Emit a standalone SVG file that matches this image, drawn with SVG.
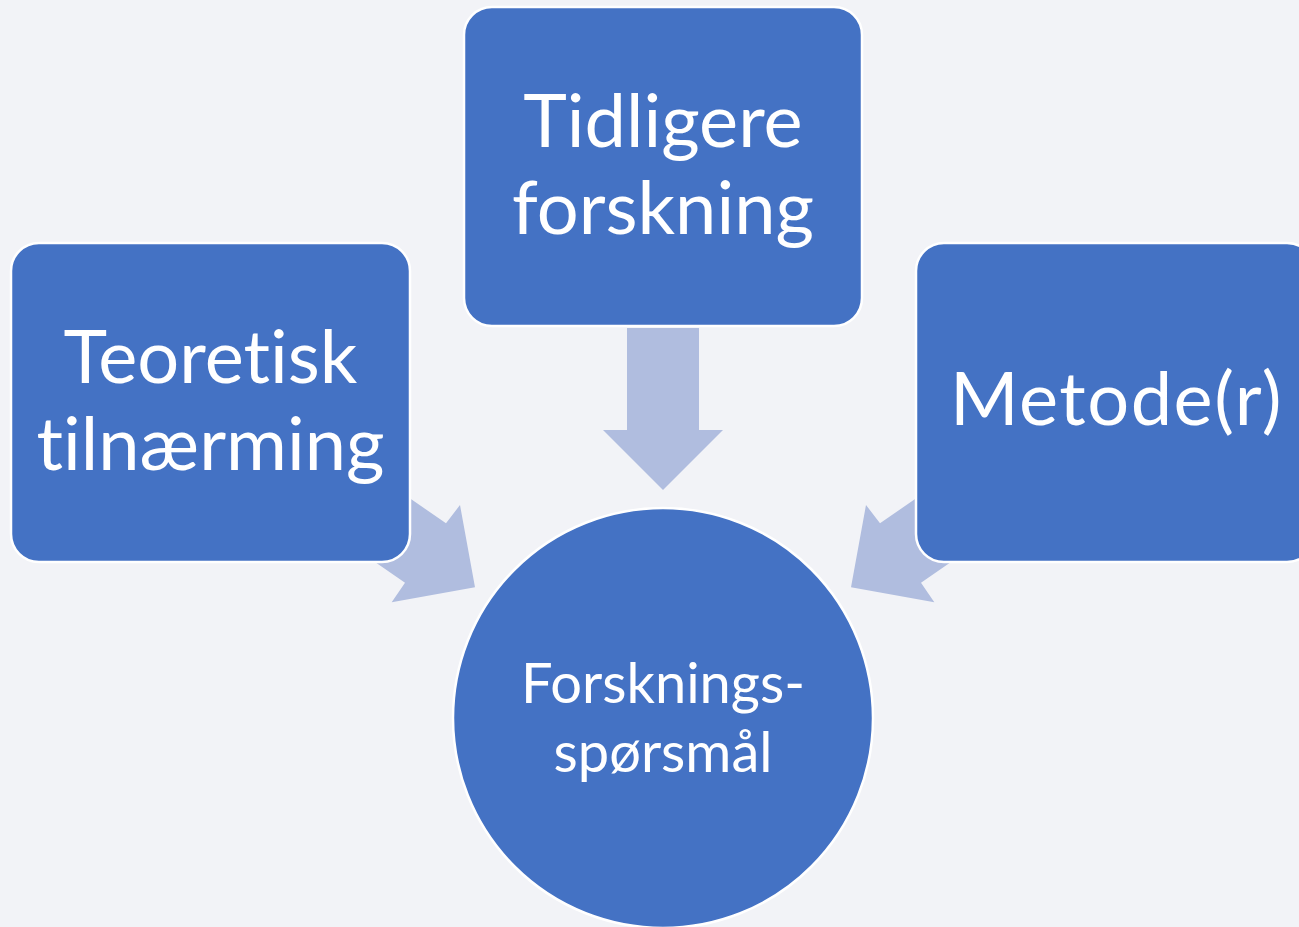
<svg xmlns="http://www.w3.org/2000/svg" width="1299" height="927" viewBox="0 0 1299 927">
<style>
.bg{fill:#F2F3F7}
.arrow{fill:#B0BDDF}
.box{fill:#4472C4;stroke:#FFFFFF;stroke-width:2.5}
.lbl{fill:#FFFFFF;font-family:Lato,"Open Sans",sans-serif;text-anchor:middle;font-variant-ligatures:none;font-feature-settings:"liga" 0,"clig" 0}
.big{font-size:74px}
.small{font-size:56px}
</style>
<rect class="bg" x="0" y="0" width="1299" height="927"/>
<g id="connectors">
<polygon class="arrow" points="627,328 699,328 699,430 723,430 663,490 603,430 627,430"/>
<polygon class="arrow" points="395,488 446,523.3 460,505 475,587.3 391.7,602.3 405,582.7 362,553"/>
<polygon class="arrow" points="931,488 880,523.3 866,505 851,587.3 934.3,602.3 921,582.7 964,553"/>
</g>
<g id="node-teoretisk">
<rect class="box" x="11" y="243" width="399" height="319" rx="28" ry="28"/>
<text class="lbl big" x="210.5" y="383">Teoretisk</text>
<text class="lbl big" x="210.5" y="470">tilnærming</text>
</g>
<g id="node-tidligere">
<rect class="box" x="464" y="7" width="398" height="319" rx="28" ry="28"/>
<text class="lbl big" x="663" y="147">Tidligere</text>
<text class="lbl big" x="663" y="234">forskning</text>
</g>
<g id="node-metode">
<rect class="box" x="916" y="243" width="399" height="319" rx="28" ry="28"/>
<text class="lbl big" x="1116.5" y="425" letter-spacing="1.5">Metode(r)</text>
</g>
<g id="node-forskningssporsmal">
<circle class="box" cx="663" cy="718" r="210" stroke-width="1.5"/>
<text class="lbl small" x="663" y="703">Forsknings-</text>
<text class="lbl small" x="663" y="772">spørsmål</text>
</g>
</svg>
